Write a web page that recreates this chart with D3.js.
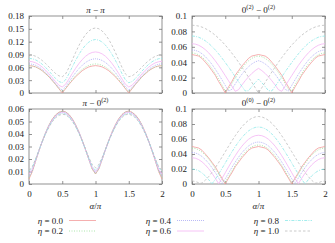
<!DOCTYPE html>
<html>
<head>
<meta charset="utf-8">
<script src="https://cdnjs.cloudflare.com/ajax/libs/d3/7.8.5/d3.min.js"></script>
<style>
  body { margin: 0; background: #fff; }
  text { font-family: "Liberation Serif", "DejaVu Serif", serif; fill: #222; }
</style>
</head>
<body>
<svg width="335" height="243"></svg>
<script>
// alpha/pi sample points
var alpha = [0,0.05,0.1,0.15,0.2,0.25,0.3,0.35,0.4,0.45,0.5,0.55,0.6,0.65,0.7,0.75,0.8,0.85,0.9,0.95,1,
  1.05,1.1,1.15,1.2,1.25,1.3,1.35,1.4,1.45,1.5,1.55,1.6,1.65,1.7,1.75,1.8,1.85,1.9,1.95,2];

var etaLabels = ["0.0", "0.2", "0.4", "0.6", "0.8", "1.0"];
var xTicks = [0, 0.5, 1, 1.5, 2];

// pi - pi
var piPi = [
  [.064,.063,.061,.057,.052,.045,.038,.029,.020,.010,0,.010,.020,.029,.038,.045,.052,.057,.061,.063,.064,
   .063,.061,.057,.052,.045,.038,.029,.020,.010,0,.010,.020,.029,.038,.045,.052,.057,.061,.063,.064],
  [.064,.0632,.0608,.057,.0518,.0453,.0377,.0292,.02,.0104,.003,.011,.0212,.031,.04,.0481,.055,.0606,.0646,.0671,.068,
   .0671,.0646,.0606,.055,.0481,.04,.031,.0212,.011,.003,.0104,.02,.0292,.0377,.0453,.0518,.057,.0608,.0632,.064],
  [.068,.0672,.0647,.0607,.0552,.0483,.0404,.0315,.022,.0127,.007,.0143,.0256,.0369,.0474,.0568,.0648,.0713,.0761,.079,.08,
   .079,.0761,.0713,.0648,.0568,.0474,.0369,.0256,.0143,.007,.0127,.022,.0315,.0404,.0483,.0552,.0607,.0647,.0672,.068],
  [.074,.0731,.0705,.0662,.0604,.0533,.0449,.0358,.0265,.018,.014,.0204,.0325,.0453,.0576,.0686,.0781,.0858,.0914,.0948,.096,
   .0948,.0914,.0858,.0781,.0686,.0576,.0453,.0325,.0204,.014,.018,.0265,.0358,.0449,.0533,.0604,.0662,.0705,.0731,.074],
  [.081,.0801,.0774,.073,.067,.0597,.0514,.0425,.0339,.0269,.024,.0307,.0449,.0606,.076,.09,.1021,.1119,.1191,.1235,.125,
   .1235,.1191,.1119,.1021,.09,.076,.0606,.0449,.0307,.024,.0269,.0339,.0425,.0514,.0597,.067,.073,.0774,.0801,.081],
  [.0895,.0886,.0859,.0816,.0758,.0688,.0609,.0529,.0455,.0401,.038,.0444,.0593,.0769,.0945,.1108,.125,.1365,.145,.1502,.152,
   .1502,.145,.1365,.125,.1108,.0945,.0769,.0593,.0444,.038,.0401,.0455,.0529,.0609,.0688,.0758,.0816,.0859,.0886,.0895]
];
var piPiTicks = [0, 0.03, 0.06, 0.09, 0.12, 0.15, 0.18];

// 0(2) - 0(2)
var zeroZero = [
  [.05,.049,.048,.045,.04,.035,.029,.023,.015,.008,0,.008,.015,.023,.029,.035,.04,.045,.048,.049,.05,
   .049,.048,.045,.04,.035,.029,.023,.015,.008,0,.008,.015,.023,.029,.035,.04,.045,.048,.049,.05],
  [.052,.0514,.0496,.0467,.0426,.0376,.0318,.0252,.0181,.0106,.0028,.0049,.0125,.0197,.0264,.0324,.0376,.0418,.045,.0471,.048,
   .0471,.045,.0418,.0376,.0324,.0264,.0197,.0125,.0049,.0028,.0106,.0181,.0252,.0318,.0376,.0426,.0467,.0496,.0514,.052],
  [.056,.0554,.0538,.051,.0473,.0426,.0372,.031,.0243,.0172,.0099,.0025,.0048,.0118,.0183,.0243,.0297,.0342,.0378,.0404,.042,
   .0404,.0378,.0342,.0297,.0243,.0183,.0118,.0048,.0025,.0099,.0172,.0243,.031,.0372,.0426,.0473,.051,.0538,.0554,.056],
  [.064,.0635,.062,.0596,.0563,.0522,.0473,.0418,.0358,.0293,.0226,.0158,.0089,.0022,.0043,.0104,.016,.021,.0254,.0291,.032,
   .0291,.0254,.021,.016,.0104,.0043,.0022,.0089,.0158,.0226,.0293,.0358,.0418,.0473,.0522,.0563,.0596,.062,.0635,.064],
  [.074,.0736,.0724,.0705,.0678,.0645,.0605,.0559,.0509,.0454,.0396,.0336,.0274,.0211,.0148,.0087,.0027,.003,.0084,.0134,.018,
   .0134,.0084,.003,.0027,.0087,.0148,.0211,.0274,.0336,.0396,.0454,.0509,.0559,.0605,.0645,.0678,.0705,.0724,.0736,.074],
  [.088,.0877,.0869,.0856,.0837,.0813,.0784,.075,.0712,.0669,.0622,.0572,.0517,.046,.04,.0337,.0272,.0205,.0138,.0069,0,
   .0069,.0138,.0205,.0272,.0337,.04,.046,.0517,.0572,.0622,.0669,.0712,.075,.0784,.0813,.0837,.0856,.0869,.0877,.088]
];
var zeroZeroTicks = [0, 0.02, 0.04, 0.06, 0.08, 0.1];

// pi - 0(2)
var piZero = [
  [.004,.0099,.0184,.0266,.0343,.0412,.0471,.0519,.0553,.0574,.0583,.0578,.0557,.0523,.0476,.0418,.035,.0275,.0196,.0121,.008,
   .0121,.0196,.0275,.035,.0418,.0476,.0523,.0557,.0578,.0583,.0574,.0553,.0519,.0471,.0412,.0343,.0266,.0184,.0099,.004],
  [.005,.0103,.0185,.0267,.0343,.0412,.047,.0517,.0552,.0573,.0582,.0576,.0556,.0521,.0474,.0416,.0349,.0274,.0196,.0121,.008,
   .0121,.0196,.0274,.0349,.0416,.0474,.0521,.0556,.0576,.0582,.0573,.0552,.0517,.047,.0412,.0343,.0267,.0185,.0103,.005],
  [.006,.0108,.0187,.0266,.0341,.0409,.0467,.0513,.0547,.0568,.0577,.0572,.0551,.0518,.0471,.0414,.0348,.0275,.0198,.0127,.009,
   .0127,.0198,.0275,.0348,.0414,.0471,.0518,.0551,.0572,.0577,.0568,.0547,.0513,.0467,.0409,.0341,.0266,.0187,.0108,.006],
  [.008,.0119,.0192,.0269,.0342,.0407,.0464,.051,.0543,.0564,.0572,.0567,.0547,.0513,.0468,.0412,.0347,.0275,.0201,.0133,.01,
   .0133,.0201,.0275,.0347,.0412,.0468,.0513,.0547,.0567,.0572,.0564,.0543,.051,.0464,.0407,.0342,.0269,.0192,.0119,.008],
  [.01,.0132,.0199,.0271,.0341,.0405,.046,.0504,.0537,.0557,.0565,.0559,.0539,.0507,.0462,.0408,.0344,.0275,.0204,.014,.011,
   .014,.0204,.0275,.0344,.0408,.0462,.0507,.0539,.0559,.0565,.0557,.0537,.0504,.046,.0405,.0341,.0271,.0199,.0132,.01],
  [.011,.0139,.0201,.0271,.0339,.0401,.0454,.0498,.053,.0549,.0558,.0554,.0534,.0503,.046,.0407,.0346,.0279,.0213,.0156,.013,
   .0156,.0213,.0279,.0346,.0407,.046,.0503,.0534,.0554,.0558,.0549,.053,.0498,.0454,.0401,.0339,.0271,.0201,.0139,.011]
];
var piZeroTicks = [0, 0.01, 0.02, 0.03, 0.04, 0.05, 0.06];

// 0(0) - 0(2)
var zeroTwo = [
  [.05,.049,.048,.045,.04,.035,.029,.023,.015,.008,0,.008,.015,.023,.029,.035,.04,.045,.048,.049,.05,
   .049,.048,.045,.04,.035,.029,.023,.015,.008,0,.008,.015,.023,.029,.035,.04,.045,.048,.049,.05],
  [.048,.0474,.0456,.0426,.0385,.0334,.0274,.0207,.0135,.0058,.002,.0098,.0175,.0247,.0314,.0374,.0425,.0466,.0496,.0514,.052,
   .0514,.0496,.0466,.0425,.0374,.0314,.0247,.0175,.0098,.002,.0058,.0135,.0207,.0274,.0334,.0385,.0426,.0456,.0474,.048],
  [.042,.0414,.0396,.0367,.0326,.0277,.0218,.0153,.0081,.0007,.007,.0147,.0221,.0293,.0358,.0417,.0466,.0507,.0536,.0554,.056,
   .0554,.0536,.0507,.0466,.0417,.0358,.0293,.0221,.0147,.007,.0007,.0081,.0153,.0218,.0277,.0326,.0367,.0396,.0414,.042],
  [.035,.0344,.0326,.0296,.0255,.0204,.0144,.0077,.0005,.0072,.015,.0228,.0305,.0377,.0444,.0504,.0555,.0596,.0626,.0644,.065,
   .0644,.0626,.0596,.0555,.0504,.0444,.0377,.0305,.0228,.015,.0072,.0005,.0077,.0144,.0204,.0255,.0296,.0326,.0344,.035],
  [.02,.0194,.0177,.0148,.0108,.0059,.0002,.0062,.0132,.0205,.028,.0355,.0428,.0498,.0562,.0619,.0668,.0708,.0737,.0754,.076,
   .0754,.0737,.0708,.0668,.0619,.0562,.0498,.0428,.0355,.028,.0205,.0132,.0062,.0002,.0059,.0108,.0148,.0177,.0194,.02],
  [.004,.0034,.0017,.0011,.005,.0098,.0154,.0217,.0285,.0357,.043,.0504,.0575,.0643,.0706,.0762,.081,.0849,.0877,.0894,.09,
   .0894,.0877,.0849,.081,.0762,.0706,.0643,.0575,.0504,.043,.0357,.0285,.0217,.0154,.0098,.005,.0011,.0017,.0034,.004]
];
var zeroTwoTicks = [0, 0.02, 0.04, 0.06, 0.08, 0.1];

// line styles per eta
var colors = ["#f29a9a", "#98e098", "#a8a8f4", "#f4b4f4", "#8ce8e8", "#bcbcbc"];
var dashes = [null, "1,1.5", "1,1", null, "3,1.2,1,1.2", "2.5,2"];

var svg = d3.select("svg");

var panels = [
  {data: piPi, ticks: piPiTicks, left: 29, top: 16, w: 133, h: 77, xlab: false,
   title: [["π","i"],[" − "],["π","i"]]},
  {data: zeroZero, ticks: zeroZeroTicks, left: 192, top: 16, w: 133, h: 77, xlab: false,
   title: [["0"],["(2)","s"],[" − "],["0"],["(2)","s"]]},
  {data: piZero, ticks: piZeroTicks, left: 29, top: 109, w: 133, h: 75, xlab: true,
   title: [["π","i"],[" − "],["0"],["(2)","s"]]},
  {data: zeroTwo, ticks: zeroTwoTicks, left: 192, top: 109, w: 133, h: 75, xlab: true,
   title: [["0"],["(0)","s"],[" − "],["0"],["(2)","s"]]}
];

function mathText(sel, parts, size) {
  var up = false;
  parts.forEach(function(p) {
    var ts = sel.append("tspan").text(p[0]);
    if (p[1] === "s") {
      ts.attr("dy", -3.5).attr("font-size", (size * 0.7) + "px");
      up = true;
    } else {
      if (up) { ts.attr("dy", 3.5); up = false; }
      if (p[1] === "i") ts.style("font-style", "italic");
    }
  });
}

panels.forEach(function(p) {
  var x = d3.scaleLinear().domain([0, 2]).range([0, p.w]);
  var y = d3.scaleLinear().domain([p.ticks[0], p.ticks[p.ticks.length - 1]]).range([p.h, 0]);
  var g = svg.append("g").attr("transform", "translate(" + p.left + "," + p.top + ")");

  var fmt = function(d) { return String(d); };
  var axes = [
    g.append("g").call(d3.axisLeft(y).tickValues(p.ticks).tickSize(-3).tickPadding(5).tickFormat(fmt)),
    g.append("g").attr("transform", "translate(" + p.w + ",0)")
      .call(d3.axisRight(y).tickValues(p.ticks).tickSize(-3).tickFormat("")),
    g.append("g").call(d3.axisTop(x).tickValues(xTicks).tickSize(-3).tickFormat("")),
    g.append("g").attr("transform", "translate(0," + p.h + ")")
      .call(d3.axisBottom(x).tickValues(xTicks).tickSize(-3).tickPadding(7)
        .tickFormat(p.xlab ? fmt : ""))
  ];
  axes.forEach(function(a) {
    a.select(".domain").remove();
    a.selectAll("line").attr("stroke", "#777").attr("stroke-width", 0.8);
    a.selectAll("text").attr("font-size", "9px").attr("fill", "#222")
      .style("font-family", "'Liberation Serif', serif");
  });

  g.append("rect").attr("width", p.w).attr("height", p.h)
    .attr("fill", "none").attr("stroke", "#777").attr("stroke-width", 0.8);

  var line = d3.line()
    .x(function(d, i) { return x(alpha[i]); })
    .y(function(d) { return y(d); });

  p.data.forEach(function(s, k) {
    g.append("path").datum(s)
      .attr("d", line)
      .attr("fill", "none")
      .attr("stroke", colors[k])
      .attr("stroke-width", 0.8)
      .attr("stroke-dasharray", dashes[k]);
  });

  var t = svg.append("text")
    .attr("x", p.left + p.w / 2).attr("y", p.top - 3.5)
    .attr("text-anchor", "middle").attr("font-size", "9px");
  mathText(t, p.title, 9);

  if (p.xlab) {
    var xl = svg.append("text")
      .attr("x", p.left + p.w / 2).attr("y", p.top + p.h + 25)
      .attr("text-anchor", "middle").attr("font-size", "9px");
    mathText(xl, [["α","i"],["/"],["π","i"]], 9);
  }
});

// legend
var legCols = [63, 171, 279];
var legRows = [223.5, 234];
etaLabels.forEach(function(lab, k) {
  var cx = legCols[Math.floor(k / 2)];
  var cy = legRows[k % 2];
  var t = svg.append("text").attr("x", cx).attr("y", cy)
    .attr("text-anchor", "end").attr("font-size", "9px");
  mathText(t, [["η","i"],[" = " + lab]], 9);
  svg.append("line")
    .attr("x1", cx + 6).attr("x2", cx + 33)
    .attr("y1", cy - 3).attr("y2", cy - 3)
    .attr("stroke", colors[k]).attr("stroke-width", 0.8)
    .attr("stroke-dasharray", dashes[k]);
});
</script>
</body>
</html>
